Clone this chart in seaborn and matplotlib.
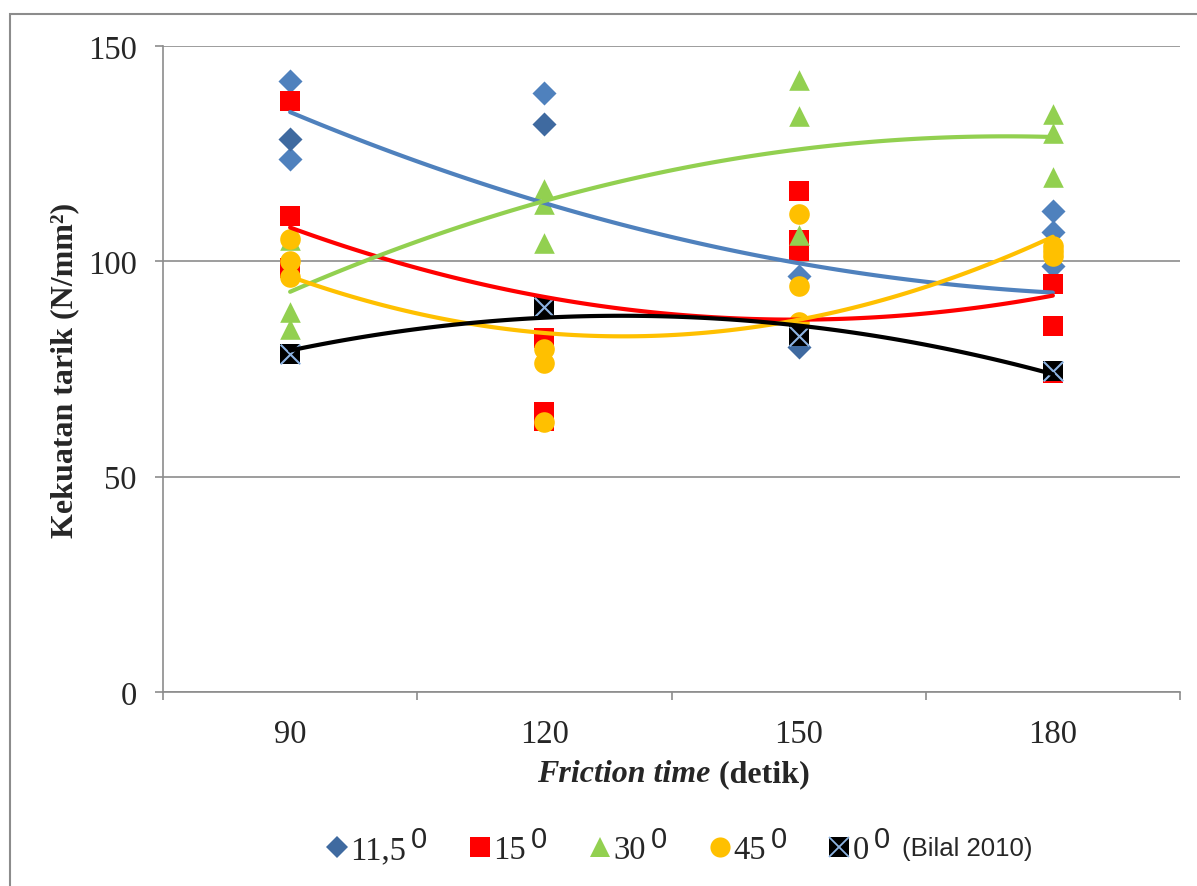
import numpy as np
import pandas as pd
import seaborn as sns
import matplotlib.pyplot as plt
from matplotlib.lines import Line2D
from matplotlib.patches import Rectangle

# Friction time (detik)
times = [90, 120, 150, 180]

# 11,5 derajat (diamonds, light and dark blue)
x_115 = [90, 90, 120, 150, 180, 180, 180]
y_115 = [141.8, 123.8, 139.2, 96.5, 111.8, 106.7, 99.0]
x_115b = [90, 120, 150]
y_115b = [128.4, 132.0, 80.0]

# 15 derajat
x_15 = [90, 90, 90, 120, 120, 120, 150, 150, 150, 180, 180, 180]
y_15 = [137.3, 110.6, 98.5, 82.1, 65.0, 62.9, 116.4, 105.0, 102.5, 94.7, 85.0, 74.0]

# 30 derajat
x_30 = [90, 90, 90, 120, 120, 120, 150, 150, 150, 180, 180, 180]
y_30 = [105.0, 88.2, 84.3, 116.8, 113.3, 104.2, 142.2, 133.8, 106.0, 134.2, 129.9, 119.5]

# 45 derajat
x_45 = [90, 90, 90, 120, 120, 120, 150, 150, 150, 180, 180, 180]
y_45 = [105.2, 100.1, 96.3, 79.6, 76.5, 62.6, 111.0, 94.3, 86.0, 103.6, 102.5, 101.3]

# 0 derajat (Bilal 2010)
y_0 = [78.5, 89.3, 82.7, 74.6]

# values of the polynomial trend lines at each friction time
trend_115 = [134.6, 113.7, 99.4, 92.8]
trend_15 = [107.9, 91.6, 86.6, 92.0]
trend_30 = [93.0, 113.8, 126.2, 128.8]
trend_45 = [96.3, 83.9, 85.9, 105.9]

labels = ["11,5", "15", "30", "45", "0"]
c_blue, c_blue_dark = "#4F81BD", "#3F6AA0"
c_red, c_green, c_yellow = "#FF0000", "#92D050", "#FFC000"
c_xblue = "#8EB4E3"

sns.set_theme(style="white")
plt.rcParams['font.family'] = ['Liberation Serif', 'DejaVu Serif']

W, H = 1197, 887
fig = plt.figure(figsize=(W / 100, H / 100), dpi=100)
ax = fig.add_axes([163 / W, 1 - 693 / H, (1180 - 163) / W, (693 - 47) / H])

# outer chart border
fig.patches.append(Rectangle((10 / W, -0.1), 1.2, 1.1 - 15 / H, transform=fig.transFigure,
                             fill=False, edgecolor="#8C8C8C", lw=1.5))

# scatter points
sns.scatterplot(x=x_115, y=y_115, marker="D", color=c_blue, s=150, linewidth=0, ax=ax, zorder=3)
sns.scatterplot(x=x_115b, y=y_115b, marker="D", color=c_blue_dark, s=150, linewidth=0, ax=ax, zorder=3)
sns.scatterplot(x=x_15, y=y_15, marker="s", color=c_red, s=200, linewidth=0, ax=ax, zorder=3)
sns.scatterplot(x=x_30, y=y_30, marker="^", color=c_green, s=220, linewidth=0, ax=ax, zorder=3)
sns.scatterplot(x=x_45, y=y_45, marker="o", color=c_yellow, s=220, linewidth=0, ax=ax, zorder=3)
sns.scatterplot(x=times, y=y_0, marker="s", color="black", s=200, linewidth=0, ax=ax, zorder=3)
sns.scatterplot(x=times, y=y_0, marker="x", color=c_xblue, s=200, linewidth=1.5, ax=ax, zorder=3)

# polynomial (order 2) trend lines
for vals, col in [(trend_115, c_blue), (trend_15, c_red), (trend_30, c_green),
                  (trend_45, c_yellow), (y_0, "black")]:
    sns.regplot(x=np.array(times, dtype=float), y=np.array(vals), order=2, ci=None,
                scatter=False, truncate=True, ax=ax,
                line_kws=dict(color=col, lw=3, zorder=4))

# axes formatting
ax.set_xlim(75, 195)
ax.set_ylim(0, 150)
ax.set_yticks([0, 50, 100, 150])
ax.set_xticks(times)
ax.set_xticks([75, 105, 135, 165, 195], minor=True)
ax.set_xlabel("")
ax.set_ylabel("")
ax.yaxis.grid(True, color="#8C8C8C", lw=1.2)
ax.set_axisbelow(True)
for s in ["top", "right"]:
    ax.spines[s].set_visible(False)
for s in ["left", "bottom"]:
    ax.spines[s].set_color("#8C8C8C")
    ax.spines[s].set_linewidth(1.2)
ax.tick_params(axis="y", which="major", length=6, width=1.2, color="#8C8C8C",
               direction="out", left=True, labelsize=23.5, pad=13)
ax.tick_params(axis="x", which="major", length=0, labelsize=23.5, pad=19)
ax.tick_params(axis="x", which="minor", length=6, width=1.2, color="#8C8C8C",
               direction="out", bottom=True)

# axis titles
fig.text(65 / W, 1 - 370 / H, "Kekuatan tarik (N/mm\u00b2)", rotation=90, fontsize=23,
         fontweight="bold", ha="center", va="center")
fig.text(710 / W, 1 - 775 / H, "Friction time", fontsize=23, fontweight="bold",
         fontstyle="italic", ha="right", va="center")
fig.text(711 / W, 1 - 775 / H, " (detik)", fontsize=23, fontweight="bold",
         ha="left", va="center")

# legend
handles = [
    Line2D([], [], ls="", marker="D", color=c_blue_dark, markersize=11, markeredgewidth=0),
    Line2D([], [], ls="", marker="s", color=c_red, markersize=14, markeredgewidth=0),
    Line2D([], [], ls="", marker="^", color=c_green, markersize=15, markeredgewidth=0),
    Line2D([], [], ls="", marker="o", color=c_yellow, markersize=14.5, markeredgewidth=0),
    (Line2D([], [], ls="", marker="s", color="black", markersize=14, markeredgewidth=0),
     Line2D([], [], ls="", marker="x", color=c_xblue, markersize=14, markeredgewidth=1.3)),
]
leg = fig.legend(handles, labels, loc="center", bbox_to_anchor=(599 / W, 1 - 851 / H),
                 ncol=5, frameon=False, fontsize=23.5, handlelength=0.5,
                 handletextpad=0.15, columnspacing=2.02)

fig.canvas.draw()
renderer = fig.canvas.get_renderer()
for i, t in enumerate(leg.get_texts()):
    bb = t.get_window_extent(renderer)
    fig.text((bb.x1 + 5) / W, (bb.y1 + 10) / H, "0", fontsize=21,
             family=["Liberation Sans", "DejaVu Sans"], ha="left", va="top")
    if i == len(labels) - 1:
        fig.text((bb.x1 + 33) / W, (bb.y0 + bb.y1) / 2 / H + 0.002, "(Bilal 2010)",
                 fontsize=18.5, family=["Liberation Sans", "DejaVu Sans"],
                 ha="left", va="center")

fig.savefig("out.png", dpi=100)
